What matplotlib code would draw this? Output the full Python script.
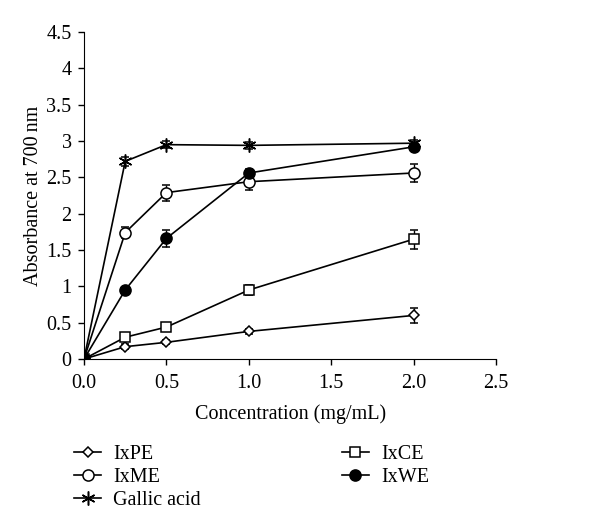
import matplotlib
matplotlib.use("Agg")
import matplotlib.pyplot as plt
from matplotlib.lines import Line2D

plt.rcParams['font.family'] = ['Liberation Serif', 'DejaVu Serif']

conc = [0.0, 0.25, 0.5, 1.0, 2.0]
ixpe = [0.0, 0.17, 0.23, 0.38, 0.60]
ixpe_err = [0.0, 0.03, 0.03, 0.03, 0.10]
ixce = [0.0, 0.30, 0.44, 0.95, 1.65]
ixce_err = [0.0, 0.03, 0.03, 0.07, 0.13]
ixme = [0.0, 1.74, 2.29, 2.44, 2.56]
ixme_err = [0.0, 0.08, 0.11, 0.11, 0.12]
ixwe = [0.0, 0.95, 1.66, 2.56, 2.92]
ixwe_err = [0.0, 0.03, 0.12, 0.06, 0.04]
gallic = [0.0, 2.72, 2.95, 2.94, 2.97]
gallic_err = [0.0, 0.06, 0.05, 0.05, 0.05]

fig = plt.figure(figsize=(6.0, 5.3), dpi=100)
ax = fig.add_axes([0.14, 0.3226, 0.687, 0.617])

series = [
    ("IxPE", ixpe, ixpe_err, 'D', 'white', 5.5),
    ("IxCE", ixce, ixce_err, 's', 'white', 6.5),
    ("IxME", ixme, ixme_err, 'o', 'white', 8),
    ("IxWE", ixwe, ixwe_err, 'o', 'black', 8),
    ("Gallic acid", gallic, gallic_err, (6, 2, 0), 'black', 10),
]
handles = {}
for name, y, e, m, fc, ms in series:
    ax.errorbar(conc, y, yerr=e, color='black', lw=1.2, elinewidth=1.0,
                capsize=3, capthick=1.0, marker=m, markersize=ms,
                markerfacecolor=fc, markeredgecolor='black', markeredgewidth=1.1, zorder=3)
    handles[name] = Line2D([], [], color='black', lw=1.2, marker=m,
                           markersize=ms, markerfacecolor=fc,
                           markeredgecolor='black', markeredgewidth=1.1)

ax.set_xlim(0, 2.5)
ax.set_ylim(0, 4.5)
ax.set_xticks([0.0, 0.5, 1.0, 1.5, 2.0, 2.5])
ax.set_xticklabels(['0.0', '0.5', '1.0', '1.5', '2.0', '2.5'])
ax.set_yticks([0, 0.5, 1, 1.5, 2, 2.5, 3, 3.5, 4, 4.5])
ax.set_yticklabels(['0', '0.5', '1', '1.5', '2', '2.5', '3', '3.5', '4', '4.5'])
ax.spines['top'].set_visible(False)
ax.spines['right'].set_visible(False)
ax.tick_params(direction='out', length=4, width=1, labelsize=14.5, colors='black')
ax.tick_params(axis='x', pad=7)
ax.tick_params(axis='y', pad=5)
ax.set_xlabel('Concentration (mg/mL)', fontsize=14.5, labelpad=8)
ax.set_ylabel('Absorbance at 700\u2009nm', fontsize=14.5, labelpad=2)

order = ["IxPE", "IxME", "Gallic acid", "IxCE", "IxWE"]
leg = fig.legend([handles[n] for n in order], order, loc='upper left',
                 bbox_to_anchor=(0.093, 0.195), ncol=2, frameon=False,
                 fontsize=14.5, handlelength=1.35, handletextpad=0.6,
                 columnspacing=7.0, labelspacing=0.2)

fig.savefig('out.png', dpi=100)
